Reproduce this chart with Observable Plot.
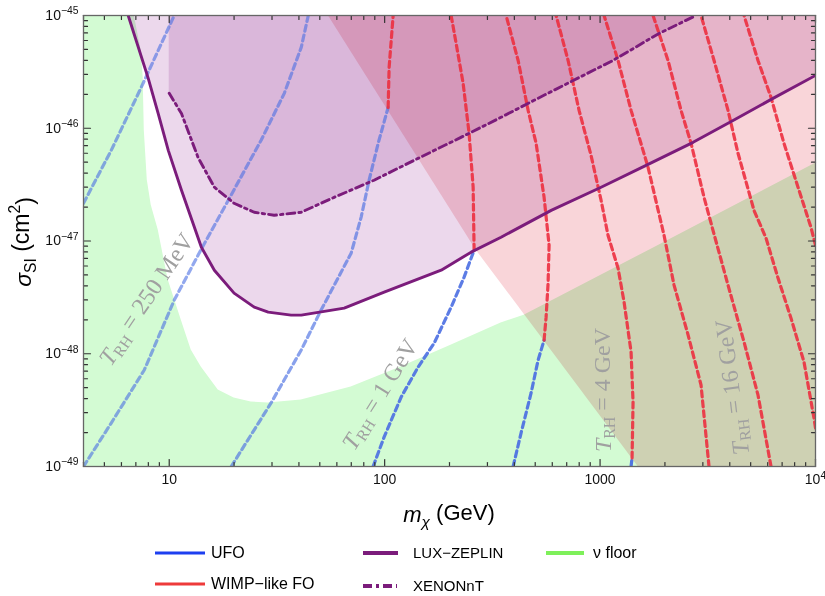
<!DOCTYPE html>
<html><head><meta charset="utf-8">
<script src="https://cdn.jsdelivr.net/npm/d3@7"></script>
<script src="https://cdn.jsdelivr.net/npm/@observablehq/plot@0.6"></script>
<style>
body{margin:0;background:#fff;font-family:"Liberation Sans",Arial,sans-serif;}
#wrap{position:relative;width:825px;height:596px;overflow:hidden;}
.leg-line{position:absolute;}
.leg-text{position:absolute;font-size:16px;color:#000;white-space:nowrap;line-height:20px;height:20px;}
</style></head><body><div id="wrap"><div id="chart"></div></div>
<script>
// ---------- data (mass in GeV, sigma_SI in cm^2) ----------
const xMajor = [10, 100, 1000, 10000];
const xMinor = [4,5,6,7,8,9,20,30,40,50,60,70,80,90,200,300,400,500,600,700,800,900,2000,3000,4000,5000,6000,7000,8000,9000];
const yMajor = [1e-49, 1e-48, 1e-47, 1e-46, 1e-45];
const yMinor = [2,3,4,5,6,7,8,9].flatMap(k => [k*1e-49, k*1e-48, k*1e-47, k*1e-46]);

const nuFloor = [[4,1e-45],[6.88,1e-45],[7.41,4.9e-46],[7.57,2.83e-46],[7.66,9.57e-47],[7.91,3.46e-47],[8.25,2.07e-47],[8.89,1.25e-47],[9.89,4.5e-48],[11.37,1.99e-48],[12.65,1.08e-48],[14.08,7.62e-49],[16.88,4.77e-49],[20.0,4.05e-49],[24.0,3.73e-49],[28.8,3.66e-49],[41.0,3.89e-49],[69.9,5.07e-49],[119,7.62e-49],[203,1.19e-48],[347,1.87e-48],[444,2.2e-48],[1762,8.63e-48],[10000,4.89e-47]];
const foRegion = [[54.7,1e-45],[266,8.29e-48],[1501,1e-49],[10000,1e-49]];
const luxZeplin = [[6.45,1e-45],[7.99,2.77e-46],[8.89,1.35e-46],[9.9,6.37e-47],[11.4,2.82e-47],[14.1,8.81e-48],[16.2,5.5e-48],[20.0,3.45e-48],[24.8,2.59e-48],[28.8,2.34e-48],[36.8,2.2e-48],[41,2.2e-48],[64.9,2.54e-48],[99.5,3.52e-48],[183,5.51e-48],[252,7.96e-48],[347,1.08e-47],[593,1.87e-47],[1011,3.0e-47],[1635,4.69e-47],[2703,7.5e-47],[4143,1.17e-46],[6350,1.84e-46],[10000,2.94e-46]];
const xenonNT = [[10,2.04e-46],[11.4,1.35e-46],[13.6,5.52e-47],[16.2,3.0e-47],[20.0,2.16e-47],[24.8,1.8e-47],[30.7,1.69e-47],[41,1.8e-47],[58.3,2.44e-47],[89.3,3.46e-47],[143,5.41e-47],[226,8.3e-47],[347,1.25e-46],[494,1.77e-46],[750,2.65e-46],[1148,3.99e-46],[1878,6.93e-46],[2787,1e-45]];

// UFO (blue) and WIMP-like FO (red) parts of each T_RH curve
const ufo125MeV = [[4.0,2.16e-47],[5.38,6.37e-47],[7.41,2.30e-46],[10.55,1e-45]];
const ufo250MeV = [[4.0,1.0e-49],[5.38,2.43e-49],[7.66,7.18e-49],[10.55,2.99e-48],[14.08,8.45e-48],[18.8,2.30e-47],[26.7,7.82e-47],[34.2,2.04e-46],[41.0,5.21e-46],[44.2,1e-45]];
const ufo500MeV = [[19.4,1e-49],[29.7,3.66e-49],[41.0,1.08e-48],[50.7,2.44e-48],[69.9,7.8e-48],[77.8,1.63e-47],[84.7,3.46e-47],[93.3,7.35e-47],[103.8,1.53e-46]];
const fo500MeV = [[103.8,1.53e-46],[104.9,3.46e-46],[109.5,1e-45]];
const ufo1GeV = [[88.4,1e-49],[99.5,1.83e-49],[119.3,4.13e-49],[143,7.62e-49],[169.7,1.24e-48],[203.5,2.59e-48],[233.8,4.78e-48],[260.2,8.29e-48]];
const fo1GeV = [[260.2,8.29e-48],[257.5,3.0e-47],[246.6,9.0e-47],[231.4,2.5e-46],[214.7,5.65e-46],[203.5,1e-45]];
const ufo2GeV = [[394.8,1e-49],[430,1.99e-49],[478.5,4.49e-49],[515.6,8.79e-49],[549.7,1.32e-48]];
const fo2GeV = [[549.7,1.32e-48],[561.6,2.11e-48],[573.7,4.23e-48],[579.9,9.18e-48],[549.7,2.44e-47],[504.7,7.35e-47],[463.5,1.44e-46],[416.5,3.99e-46],[366.3,1e-45]];
const ufo4GeV = [[1392.6,1e-49],[1407.7,1.19e-49]];
const fo4GeV = [[1407.7,1.19e-49],[1422.8,3.73e-49],[1392.6,1.04e-48],[1292.6,2.87e-48],[1212,5.74e-48],[1089,1.12e-47],[1010.6,2.30e-47],[908,5.75e-47],[799,1.44e-46],[710.5,3.99e-46],[625,1e-45]];
const fo8GeV = [[3204,1e-49],[2942,5.28e-49],[2561,1.47e-48],[2205,4.06e-48],[1982,1.12e-47],[1670,4.51e-47],[1393,1.44e-46],[1212,3.99e-46],[1044,1e-45]];
const fo16GeV = [[6216,1e-49],[5408,4.31e-49],[4659,1.27e-48],[3926,4.06e-48],[3381,1.15e-47],[3038,2.44e-47],[2645,7.35e-47],[2376,1.44e-46],[2068,3.99e-46],[1762,1e-45]];
const fo32GeV = [[10000,2.2e-49],[9840,2.69e-49],[8843,8.45e-49],[7696,2.07e-48],[6699,4.69e-48],[5893,1.06e-47],[5183,1.87e-47],[4369,6.0e-47],[3926,1.44e-46],[3381,3.99e-46],[2942,1e-45]];
const fo64GeV = [[10000,9.18e-48],[9527,1.32e-47],[8296,3.0e-47],[7141,7.35e-47],[6216,1.88e-46],[5408,3.99e-46],[4659,1e-45]];

const labelText = ["T_RH = 250 MeV", "T_RH = 1 GeV", "T_RH = 4 GeV", "T_RH = 16 GeV"];
const labelMass = [7.9, 96, 1040, 4150];
const labelSigma = [3.0e-48, 4.31e-49, 4.77e-49, 5.07e-49];
const labelAngle = [-56, -58, -90, -97];

const legendNames = ["UFO", "WIMP\u2212like FO", "LUX\u2212ZEPLIN", "XENONnT", "\u03bd floor"];

// ---------- styling ----------
const cGreen = "#d3fbd3", cPink = "#f9d5d9", cLav = "#ecd8ec";
const cBlue = "#4a6ee2", cRed = "#ec2f3f", cPurple = "#7b1c7b";
const XY = {x: d => d[0], y: d => d[1]};
const blueLines = [[ufo125MeV,0.6],[ufo250MeV,0.6],[ufo500MeV,0.65],[ufo1GeV,0.9],[ufo2GeV,0.92],[ufo4GeV,0.95]];
const redLines = [fo500MeV, fo1GeV, fo2GeV, fo4GeV, fo8GeV, fo16GeV, fo32GeV, fo64GeV];
const labels = labelText.map((t,i) => ({t, m: labelMass[i], s: labelSigma[i], r: labelAngle[i]}));
const dash = "6,4";

// a plain straight tick (no arrow head) for the vector mark
const tickShape = {draw(context, l) { context.moveTo(0, 0); context.lineTo(0, -l); }};
const tk = {anchor: "start", stroke: "#333", strokeWidth: 1.2, shape: tickShape};

function frameTicks() {
  return [
    Plot.vector(xMajor, {x: d => d, frameAnchor: "bottom", length: 7, rotate: 0, ...tk}),
    Plot.vector(xMinor, {x: d => d, frameAnchor: "bottom", length: 4, rotate: 0, ...tk}),
    Plot.vector(xMajor, {x: d => d, frameAnchor: "top", length: 7, rotate: 180, ...tk}),
    Plot.vector(xMinor, {x: d => d, frameAnchor: "top", length: 4, rotate: 180, ...tk}),
    Plot.vector(yMajor, {y: d => d, frameAnchor: "left", length: 7, rotate: 90, ...tk}),
    Plot.vector(yMinor, {y: d => d, frameAnchor: "left", length: 4, rotate: 90, ...tk}),
    Plot.vector(yMajor, {y: d => d, frameAnchor: "right", length: 7, rotate: -90, ...tk}),
    Plot.vector(yMinor, {y: d => d, frameAnchor: "right", length: 4, rotate: -90, ...tk})
  ];
}

const plot = Plot.plot({
  width: 825, height: 535,
  marginLeft: 83, marginRight: 10, marginTop: 15, marginBottom: 69,
  x: {type: "log", domain: [4, 1e4]},
  y: {type: "log", domain: [1e-49, 1e-45]},
  style: {fontFamily: "'Liberation Sans', Arial, sans-serif", background: "white", overflow: "visible"},
  marks: [
    Plot.areaY(nuFloor, {x: d => d[0], y1: () => 1e-49, y2: d => d[1], fill: cGreen, clip: true}),
    Plot.areaY(foRegion, {x: d => d[0], y1: d => d[1], y2: () => 1e-45, fill: cPink, clip: true}),
    Plot.areaY(luxZeplin, {x: d => d[0], y1: d => d[1], y2: () => 1e-45, fill: cLav, clip: true}),
    Plot.areaY(xenonNT, {x: d => d[0], y1: d => d[1], y2: () => 1e-45, fill: cLav, clip: true}),
    ...blueLines.map(([pts, op]) => Plot.line(pts, {...XY, stroke: cBlue, strokeOpacity: op, strokeWidth: 3.2, strokeDasharray: dash, clip: true})),
    ...redLines.map(pts => Plot.line(pts, {...XY, stroke: cRed, strokeOpacity: 0.9, strokeWidth: 3.2, strokeDasharray: dash, clip: true})),
    Plot.line(xenonNT, {...XY, stroke: cPurple, strokeWidth: 2.9, strokeDasharray: "8,4,2.5,4", clip: true}),
    Plot.line(luxZeplin, {...XY, stroke: cPurple, strokeWidth: 2.9, clip: true}),
    Plot.text(labels, {x: "m", y: "s", text: "t", rotate: "r", fontSize: 24, fontFamily: "'Liberation Serif', 'Times New Roman', serif", fill: "#a0a0a0", textAnchor: "middle"}),
    ...frameTicks(),
    Plot.frame({stroke: "#666", strokeWidth: 1.3}),
    // tick labels
    Plot.axisX(xMajor, {anchor: "bottom", tickSize: 0, tickPadding: 8, fontSize: 14, fill: "#111", tickFormat: d => d === 10000 ? "10^4" : String(d), label: null}),
    Plot.axisY(yMajor, {anchor: "left", tickSize: 0, tickPadding: 5, fontSize: 14, fill: "#111", tickFormat: d => "10^\u2212" + Math.round(-Math.log10(d)), label: null})
  ]
});

const NS = "http://www.w3.org/2000/svg";
function tspan(txt, attrs) {
  const s = document.createElementNS(NS, "tspan");
  for (const k in attrs) s.setAttribute(k, attrs[k]);
  s.textContent = txt;
  return s;
}
const svg = plot.tagName.toLowerCase() === "svg" ? plot : plot.querySelector("svg");
svg.querySelectorAll('g[aria-label="area"]').forEach(g => g.style.mixBlendMode = "multiply");
svg.querySelectorAll("text").forEach(t => {
  const s = t.textContent;
  if (s.startsWith("T_RH")) {
    t.textContent = "";
    t.append(tspan("T", {"font-style": "italic"}));
    t.append(tspan("RH", {"font-size": "0.66em", dy: "0.22em"}));
    t.append(tspan(s.slice(4), {dy: "-0.22em"}));
  } else if (s.includes("^")) {
    const [b, e] = s.split("^");
    t.textContent = b;
    t.append(tspan(e, {dy: "-0.55em", "font-size": "0.74em"}));
  }
});

// axis titles
const xl = document.createElementNS(NS, "text");
xl.setAttribute("x", 449); xl.setAttribute("y", 522);
xl.setAttribute("text-anchor", "middle"); xl.setAttribute("font-size", 22); xl.setAttribute("fill", "#000");
xl.append(tspan("m", {"font-style": "italic"}), tspan("\u03c7", {"font-style": "italic", "font-size": "0.7em", dy: "0.3em"}), tspan(" (GeV)", {dy: "-0.3em"}));
svg.append(xl);
const yl = document.createElementNS(NS, "text");
yl.setAttribute("transform", "translate(31,242) rotate(-90)");
yl.setAttribute("text-anchor", "middle"); yl.setAttribute("font-size", 23); yl.setAttribute("fill", "#000");
yl.append(tspan("\u03c3", {"font-style": "italic"}), tspan("SI", {"font-size": "0.68em", dy: "0.3em"}), tspan(" (cm", {dy: "-0.3em"}), tspan("2", {"font-size": "0.68em", dy: "-0.55em"}), tspan(")", {dy: "0.55em"}));
svg.append(yl);

const wrap = document.getElementById("wrap");
document.getElementById("chart").append(plot);

// legend (HTML below the chart)
const legendStyle = [
  {color: "#1d3ff0", w: 50, width: 3, dash: null, left: 155, text: 211, top: 553},
  {color: "#ee3a3a", w: 50, width: 3, dash: null, left: 155, text: 211, top: 584},
  {color: cPurple, w: 35, width: 4, dash: null, left: 363, text: 413, top: 553},
  {color: cPurple, w: 34, width: 4, dash: "9,4,3,4", left: 363, text: 413, top: 586},
  {color: "#7ef05a", w: 38, width: 4, dash: null, left: 546, text: 593, top: 553}
];
legendNames.forEach((name, i) => {
  const it = legendStyle[i];
  const l = document.createElement("div");
  l.className = "leg-line";
  l.style.left = it.left + "px"; l.style.top = (it.top - 5) + "px";
  l.innerHTML = `<svg width="${it.w}" height="10" style="display:block"><line x1="0" x2="${it.w}" y1="5" y2="5" stroke="${it.color}" stroke-width="${it.width}" ${it.dash ? `stroke-dasharray="${it.dash}"` : ""}/></svg>`;
  wrap.append(l);
  const t = document.createElement("div");
  t.className = "leg-text";
  t.style.left = it.text + "px"; t.style.top = (it.top - 10) + "px";
  if (i === 2 || i === 3) t.style.fontSize = "15px";
  t.textContent = name;
  wrap.append(t);
});
</script>
</body></html>
